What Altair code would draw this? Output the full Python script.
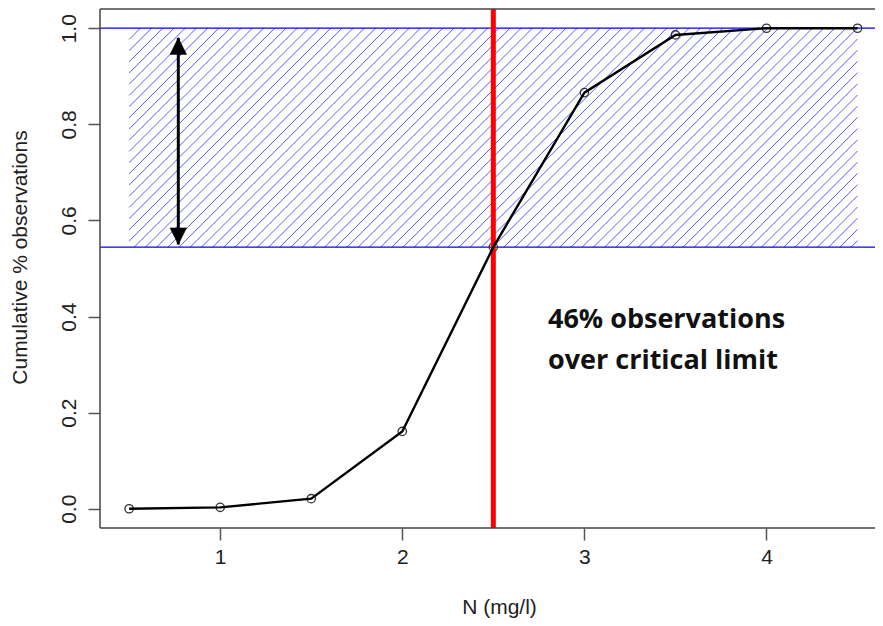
import altair as alt
import pandas as pd

# ---- data ----
n_values = [0.5, 1.0, 1.5, 2.0, 2.5, 3.0, 3.5, 4.0, 4.5]
cum_share = [0.0, 0.003, 0.021, 0.161, 0.5445, 0.866, 0.986, 1.0, 1.0]
critical_limit = 2.5
band_low = 0.5445
band_high = 1.0
band_x = [0.5, 4.5]
arrow_x = 0.77
arrow_y = [0.55, 0.98]
note_lines = ["46% observations", "over critical limit"]
note_pos = [2.80, 0.3756]
x_ticks = [1, 2, 3, 4]
y_ticks = [0.0, 0.2, 0.4, 0.6, 0.8, 1.0]
x_domain = [0.34, 4.596]
y_domain = [-0.04, 1.04]

W, H = 775, 519
FONT = "Liberation Sans"
TXT = "#222222"

xs = alt.Scale(domain=x_domain, nice=False, zero=False)
ys = alt.Scale(domain=y_domain, nice=False, zero=False)

xaxis = alt.Axis(
    values=x_ticks, format="d", domain=False, grid=False, tickSize=12,
    tickColor="#555555", tickWidth=1.5, labelFont=FONT, labelFontSize=21,
    labelColor=TXT, labelPadding=6, title="N (mg/l)", titleFont=FONT,
    titleFontSize=21, titleFontWeight="normal", titleColor=TXT,
    titleX=399, titleY=85, titleAlign="center", titleBaseline="alphabetic")
yaxis = alt.Axis(
    values=y_ticks, format=".1f", domain=False, grid=False, tickSize=12,
    tickColor="#555555", tickWidth=1.5, labelFont=FONT, labelFontSize=21,
    labelColor=TXT, labelAngle=270, labelAlign="center",
    labelBaseline="alphabetic", labelPadding=13,
    title="Cumulative % observations", titleFont=FONT, titleFontSize=21,
    titleFontWeight="normal", titleColor=TXT, titleAngle=270,
    titleX=-74, titleY=248, titleAlign="center", titleBaseline="alphabetic")


def X(field):
    return alt.X(field, scale=xs, axis=xaxis)


def Y(field):
    return alt.Y(field, scale=ys, axis=yaxis)


# ---- hatch lines (45 degrees on screen) clipped to the band ----
px_x = W / (x_domain[1] - x_domain[0])
px_y = H / (y_domain[1] - y_domain[0])
r = px_x / px_y
h = band_high - band_low
step = 11.2 / px_x
rows = []
xk = band_x[0] - h / r
while xk < band_x[1]:
    x1, y1 = xk, band_low
    x2, y2 = xk + h / r, band_high
    if x1 < band_x[0]:
        y1 = band_low + (band_x[0] - xk) * r
        x1 = band_x[0]
    if x2 > band_x[1]:
        y2 = band_low + (band_x[1] - xk) * r
        x2 = band_x[1]
    if x2 > x1:
        rows.append({"x": x1, "y": y1, "x2": x2, "y2": y2})
    xk += step
hatch_df = pd.DataFrame(rows)

curve_df = pd.DataFrame({"n": n_values, "p": cum_share})

# plot frame: left, bottom, top (right side falls outside the picture)
frame_h = alt.Chart(pd.DataFrame({"y": y_domain})).mark_rule(
    stroke="#444444", strokeWidth=1.5).encode(y=Y("y:Q"))
frame_v = alt.Chart(pd.DataFrame({"x": [x_domain[0]]})).mark_rule(
    stroke="#444444", strokeWidth=1.5).encode(x=X("x:Q"))

hatch = alt.Chart(hatch_df).mark_rule(stroke="#5a5aff", strokeWidth=1).encode(
    x=X("x:Q"), y=Y("y:Q"), x2="x2:Q", y2="y2:Q")

hlines = alt.Chart(pd.DataFrame({"y": [band_low, band_high]})).mark_rule(
    stroke="#0000ff", strokeWidth=1.3).encode(y=Y("y:Q"))

red = alt.Chart(pd.DataFrame({"x": [critical_limit]})).mark_rule(
    stroke="#ff0000", strokeWidth=5).encode(x=X("x:Q"))

arrow_df = pd.DataFrame({"x": [arrow_x], "y": [arrow_y[0]], "y2": [arrow_y[1]]})
shaft = alt.Chart(arrow_df).mark_rule(stroke="black", strokeWidth=3).encode(
    x=X("x:Q"), y=Y("y:Q"), y2="y2:Q")
head_up = alt.Chart(pd.DataFrame({"x": [arrow_x], "y": [arrow_y[1]]})).mark_point(
    shape="M0,0 L-0.5,1 L0.5,1 Z", filled=True, size=1100, fill="black",
    stroke="black", strokeWidth=0.5, opacity=1
).encode(x=X("x:Q"), y=Y("y:Q"))
head_down = alt.Chart(pd.DataFrame({"x": [arrow_x], "y": [arrow_y[0]]})).mark_point(
    shape="M0,0 L-0.5,-1 L0.5,-1 Z", filled=True, size=1100, fill="black",
    stroke="black", strokeWidth=0.5, opacity=1
).encode(x=X("x:Q"), y=Y("y:Q"))

line = alt.Chart(curve_df).mark_line(stroke="black", strokeWidth=2.4).encode(
    x=X("n:Q"), y=Y("p:Q"))
pts = alt.Chart(curve_df).mark_point(
    shape="circle", filled=False, size=70, stroke="#333333", strokeWidth=1.3, opacity=1
).encode(x=X("n:Q"), y=Y("p:Q"))

note = alt.Chart(pd.DataFrame({"x": [note_pos[0]], "y": [note_pos[1]], "t": [note_lines]})).mark_text(
    align="left", baseline="alphabetic", font="Open Sans", fontSize=27,
    fontWeight="bold", fill="#111111", lineHeight=41
).encode(x=X("x:Q"), y=Y("y:Q"), text="t")

chart = alt.layer(hatch, hlines, pts, red, shaft, head_up, head_down, line,
                  note, frame_h, frame_v).properties(
    width=W, height=H,
    autosize=alt.AutoSizeParams(type="none"),
    padding={"left": 92, "top": 1, "right": 0, "bottom": 90},
    background="white",
).configure_view(strokeWidth=0)

chart.save("out.html", embed_options={"renderer": "svg", "actions": False})
